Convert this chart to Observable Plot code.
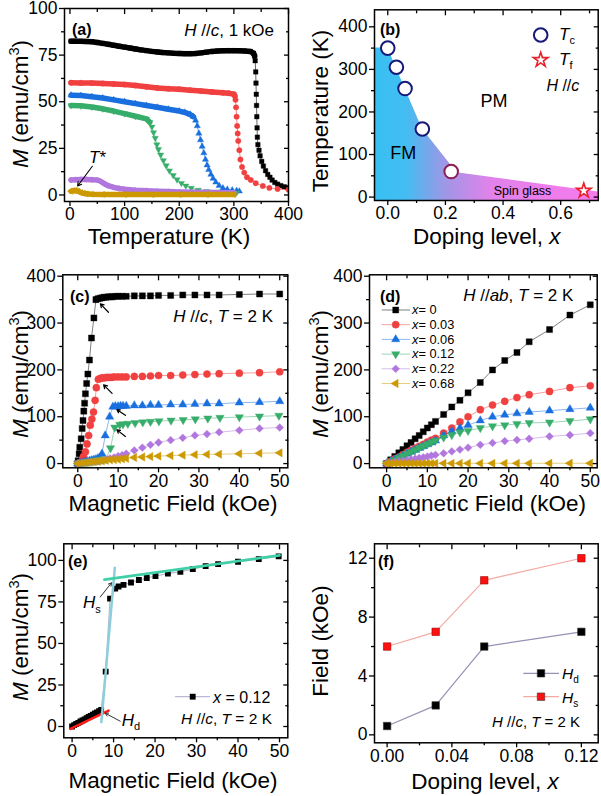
<!DOCTYPE html>
<html><head><meta charset="utf-8">
<script src="https://cdn.jsdelivr.net/npm/d3@7"></script>
<script src="https://cdn.jsdelivr.net/npm/@observablehq/plot@0.6"></script>
<style>
body{margin:0;background:#fff;}
#fig{position:relative;width:601px;height:796px;overflow:hidden;background:#fff;}
#fig svg{position:absolute;overflow:visible;}
</style></head><body><div id="fig"></div>
<script>
// ---------- DATA ----------
// (a) M vs T, H//c 1 kOe  [T (K), M (emu/cm3)]
const mtX000 = [[2,82.5],[10,82.5],[20,82.4],[30,82.3],[40,82.2],[50,81.8],[60,81.3],[70,80.8],[80,80.3],[90,79.8],[100,79.3],[110,78.8],[120,78.3],[130,77.8],[140,77.4],[150,77],[160,76.7],[170,76.4],[180,76.2],[190,76],[200,75.9],[210,75.8],[220,75.8],[230,75.9],[240,76.2],[250,76.6],[260,77],[270,77.2],[280,77.3],[290,77.4],[300,77.4],[310,77.3],[320,77.2],[330,77],[336,76],[338,74.5],[339,72],[340,66],[340.5,60],[341,54],[341.5,48],[342,42],[342.5,36],[343,31],[344,27],[346,24],[348,21],[351,18],[354,15.5],[358,13],[362,11],[366,9.5],[370,8],[375,6.7],[380,5.8],[386,5],[392,4.4],[398,4]];
const mtX003 = [[2,60.2],[20,60.1],[40,60],[60,59.8],[80,59.5],[100,59.2],[120,58.7],[140,58],[160,57.4],[180,57],[200,56.7],[220,56.2],[240,55.7],[260,55.2],[280,54.8],[290,54.6],[300,54],[302,53],[303,51],[304,47],[305,42],[306,37],[307,33],[308,29],[310,24],[312,19],[315,15],[319,12],[324,9.5],[331,8],[340,6.3],[353,4.8],[365,3.8],[380,3.2],[400,2.8]];
const mtX006 = [[2,53.5],[20,53.3],[40,52.7],[60,52],[80,51],[100,50],[120,49],[140,48],[160,47],[180,46],[200,45],[210,44.3],[220,43.2],[226,42],[230,40],[233,37],[236,33],[239,29.5],[242,26],[245,22.5],[248,19],[251,16],[254,13.5],[258,11],[262,8.8],[267,6.8],[273,5],[280,3.7],[288,3],[297,2.6],[305,2.3],[310,2]];
const mtX012 = [[2,48],[20,47.8],[40,47.2],[60,46.2],[80,45],[100,43.6],[120,42.2],[140,40.8],[146,39],[150,36.5],[153,33.5],[156,30.5],[159,27],[162,24.5],[166,21.5],[171,18.5],[176,15.8],[182,13],[189,10.5],[196,8.2],[204,6.3],[212,4.9],[222,3.7],[235,2.7],[250,2],[270,1.6],[290,1.3],[305,1.2]];
const mtX022 = [[2,8],[10,8.2],[20,8.3],[30,8.3],[40,8.2],[50,8],[55,7.5],[60,6.6],[65,5.7],[70,5],[80,4.1],[90,3.5],[100,3.1],[120,2.6],[140,2.3],[160,2],[180,1.8],[200,1.6],[230,1.4],[260,1.3],[300,1.2]];
const mtX068 = [[2,2],[5,2.3],[10,2.4],[15,2],[20,1.3],[25,0.9],[30,0.6],[40,0.4],[60,0.3],[100,0.2],[150,0.2],[200,0.2],[250,0.2],[300,0.2]];
const bandEndA = [338, 300, 226, 146, 400, 400];
const tStar = [[41,15.4],[14,4.8]];

// (b) phase diagram
const dopTc = [0, 0.03, 0.06, 0.12, 0.22];
const tcVals = [350, 305, 255, 160, 60];
const dopTf = [0.68];
const tfVals = [15];
const fmEdgeX = [-0.046, 0, 0.12, 0.24, 0.73];
const fmEdgeT = [350, 350, 160, 57, 12];

// (c) M vs H, H//c, 2 K  [H (kOe), M]
const mhC000 = [[0,0],[0.1,6],[0.35,21],[0.5,35],[0.85,53],[1.1,75],[1.3,92],[1.5,112],[1.7,129],[1.9,149],[2.2,171],[2.5,191],[2.9,221],[3.4,268],[4,311],[4.5,350],[5,352],[5.5,353],[6,354],[6.5,355],[7,355],[7.6,356],[8.2,356],[8.7,356],[9.4,357],[10.2,357],[11,357],[12,357],[14,358],[16,358],[18,358],[20,359],[23,359],[26,360],[29,360],[32,360],[35,360],[40,361],[45,362],[50,362]];
const mhC003 = [[0,0],[0.5,2],[1,5],[1.4,15],[1.9,25],[2.3,42],[2.7,60],[3.1,82],[3.5,95],[3.9,110],[4.3,135],[4.6,162],[5.1,180],[5.6,182],[6.1,183],[6.6,183],[7.2,184],[7.8,184],[8.4,184],[9,185],[10,185],[11,185],[12,185],[14,186],[16,186],[18,187],[20,188],[23,188],[26,189],[29,190],[32,191],[35,192],[40,193],[45,194],[50,196]];
const mhC006 = [[0,0],[0.5,1],[1,2],[1.5,3],[2,4],[2.5,5],[3,6],[3.5,7],[4,8],[4.5,9],[5,11],[5.5,13],[6,21],[6.8,60],[7.9,100],[8.7,121],[9.3,122],[10,122],[10.6,123],[11.2,123],[12,123],[14,124],[16,124],[18,125],[20,125],[23,126],[26,126],[29,127],[32,128],[35,128],[40,130],[45,131],[50,133]];
const mhC012 = [[0,0],[0.5,0.8],[1,1.5],[1.5,2.2],[2,3],[2.5,3.6],[3,4.3],[3.5,5],[4,5.7],[4.5,6.4],[5,7.1],[5.5,7.8],[6,8.5],[6.5,9.2],[7,10],[8.1,33],[9.15,77],[10.4,83],[11.2,84.3],[12.4,85.3],[14.2,86.7],[16.1,88.2],[18,89.4],[20.1,90.6],[23.1,92],[26.1,93.2],[29.1,94.8],[32.2,96.6],[35.2,97.8],[40,99.2],[45,100.8],[49.8,102.4]];
const mhC022 = [[0,0],[1,1],[2,2],[3,3],[4,4],[5,5],[6,7],[7,9],[8,11],[9,13],[10,16],[11,18],[12,21],[14,28],[16,34],[18,40],[20,45],[23,50],[26,55],[29,60],[32,63],[35,67],[40,71],[45,75],[50,77]];
const mhC068 = [[0,0],[1,1],[2,2],[3,3],[4,4],[5,5],[6,6],[7,7],[8,8],[9,8.5],[10,9],[11,10],[12,11],[14,13],[16,14],[18,15],[20,16],[23,17],[26,18],[29,19],[32,19.5],[35,20],[40,21],[45,22],[50,23]];
const arrowsC = [[7.6,323,5.6,341],[8.5,150,6.4,168],[11.8,103,9.7,115],[11.8,58,9.7,72]];

// (d) M vs H, H//ab, 2 K
const mhD000 = [[0,0],[1,8],[2,15],[3,23],[4,30],[5,38],[6,45],[7,53],[8,60],[9,68],[10,76],[11,83],[12,90],[14,105],[16,121],[18,135],[20,151],[23,173],[26,200],[29,220],[32,237],[35,260],[40,286],[45,317],[50,339]];
const mhD003 = [[0,0],[1,5],[2,10],[3,14],[4,19],[5,24],[6,28],[7,33],[8,37],[9,41],[10,46],[11,50],[12,54],[14,65],[16,76],[18,89],[20,100],[23,115],[26,125],[29,133],[32,141],[35,147],[40,154],[45,162],[50,166]];
const mhD006 = [[0,0],[1,4],[2,8],[3,12],[4,16],[5,21],[6,25],[7,29],[8,33],[9,37],[10,41],[11,45],[12,49],[14,60],[16,69],[18,76],[20,82],[23,92],[26,100],[29,104],[32,107],[35,110],[40,113],[45,116],[50,119]];
const mhD012 = [[0,0],[1,4],[2,8],[3,12.5],[4,16.5],[5,21],[6,25],[7,29],[8,33.5],[9,37.5],[10,41.5],[11,45.5],[12,49],[14,56],[16,61],[18,67],[20,70],[23,76],[26,80],[29,82],[32,84.7],[35,86.8],[40,88],[45,91],[50,94.7]];
const mhD022 = [[0,0],[1,1.5],[2,3],[3,4.5],[4,6],[5,7.5],[6,9],[7,10.5],[8,12],[9,13.5],[10,15],[11,17],[12,18.5],[14,22],[16,26],[18,30],[20,34],[23,40],[26,44],[29,48],[32,50.5],[35,53],[40,58],[45,61],[50,65]];
const mhD068 = [[0,0],[1,0.2],[2,0.3],[3,0.3],[4,0.4],[5,0.4],[6,0.4],[7,0.4],[8,0.4],[9,0.4],[10,0.5],[11,0.5],[12,0.5],[14,0.5],[16,0.5],[18,0.5],[20,0.6],[23,0.6],[26,0.6],[29,0.6],[32,0.6],[35,0.6],[40,0.7],[45,0.7],[50,0.7]];
const dopings = [0, 0.03, 0.06, 0.12, 0.22, 0.68];

// (e) linear fits for x = 0.12
const fitHd = [[-0.4,-1.4],[8.8,9.6]];
const fitRise = [[7.05,2.6],[10.3,95.6]];
const fitSat = [[7.8,88.4],[50,103]];
const arrowHs = [6.8,78,9.5,86.5];
const arrowHd = [11.6,3.2,8.0,8.0];

// (f) critical fields
const dopF = [0, 0.03, 0.06, 0.12];
const fieldHd = [0.6, 2, 6, 7];
const fieldHs = [6, 7, 10.5, 12];

// ---------- STYLE ----------
const FONT = "Liberation Sans, Arial, Helvetica, sans-serif";
const COL = ["#000000", "#F14040", "#1A6FDF", "#37AD6B", "#B177DE", "#CC9900"];
const SYM = ["square", "circle", "triangle", "triangle", "square", "triangle"];
const ROT = [0, 0, 0, 180, 45, -90];
const RAD = [3.4, 3.6, 3.1, 3.1, 3.1, 3.1];
const LABEL = 22.5, TICK = 17.5;
const fig = document.getElementById("fig");
const tab = pairs => pairs.map(([x, y]) => ({x, y}));

function rich(g, x, y, str, o = {}) {
  const fs = o.size || 18;
  const t = g.append("text").attr("x", x).attr("y", y)
    .attr("font-family", FONT).attr("font-size", fs)
    .attr("text-anchor", o.anchor || "start").attr("fill", "#000")
    .style("white-space", "pre");
  if (o.bold) t.attr("font-weight", "bold");
  if (o.rotate) t.attr("transform", `rotate(${o.rotate},${x},${y})`);
  const re = /<(i|sup|sub)>(.*?)<\/\1>|([^<]+)/g;
  let m, shift = 0;
  while ((m = re.exec(str))) {
    const tag = m[1], txt = m[1] ? m[2] : m[3];
    const s = t.append("tspan").text(txt);
    let target = 0;
    if (tag === "sup") { s.attr("font-size", fs * 0.65); target = -fs * 0.4; }
    else if (tag === "sub") { s.attr("font-size", fs * 0.65); target = fs * 0.25; }
    else if (tag === "i") s.attr("font-style", "italic");
    if (target !== shift) { s.attr("dy", target - shift); shift = target; }
  }
  return t;
}
const d3sym = {square: d3.symbolSquare, circle: d3.symbolCircle, triangle: d3.symbolTriangle, star: d3.symbolStar};
function sym(g, type, x, y, r, fill, stroke, sw, rot) {
  g.append("path").attr("d", d3.symbol(d3sym[type], Math.PI * r * r)())
    .attr("transform", `translate(${x},${y}) rotate(${rot || 0})`)
    .attr("fill", fill).attr("stroke", stroke || "none").attr("stroke-width", sw || 0);
}

function axes(o) {
  const c = {strokeWidth: 1.3, label: null};
  return [
    Plot.axisX({...c, anchor: "bottom", ticks: o.xMaj, tickSize: 5, tickPadding: 1.5, tickFormat: o.xFmt, fontSize: TICK}),
    Plot.axisX({...c, anchor: "bottom", ticks: o.xMin, tickSize: 3, fill: "none"}),
    Plot.axisX({...c, anchor: "top", ticks: o.xMaj, tickSize: -5, fill: "none"}),
    Plot.axisX({...c, anchor: "top", ticks: o.xMin, tickSize: -3, fill: "none"}),
    Plot.axisY({...c, anchor: "left", ticks: o.yMaj, tickSize: 5, tickPadding: 2, tickFormat: o.yFmt, fontSize: TICK}),
    Plot.axisY({...c, anchor: "left", ticks: o.yMin, tickSize: 3, fill: "none"}),
    Plot.axisY({...c, anchor: "right", ticks: o.yMaj, tickSize: -5, fill: "none"}),
    Plot.axisY({...c, anchor: "right", ticks: o.yMin, tickSize: -3, fill: "none"}),
    Plot.frame({stroke: "#000", strokeWidth: 1.5})
  ];
}
function panel(o) {
  const svg = Plot.plot({
    width: o.w, height: o.h,
    marginLeft: o.mL, marginRight: o.mR, marginTop: o.mT, marginBottom: o.mB,
    x: {domain: o.xd}, y: {domain: o.yd},
    style: {fontFamily: FONT, fontSize: "18px", color: "#000", background: "transparent", overflow: "visible"},
    marks: [...o.marks, ...axes(o)]
  });
  svg.style.position = "absolute";
  svg.style.left = o.left + "px"; svg.style.top = o.top + "px";
  fig.appendChild(svg);
  return d3.select(svg);
}
function seriesMarks(data, i, scale, lineOpacity) {
  return [
    Plot.line(data, {x: "x", y: "y", stroke: COL[i], strokeOpacity: lineOpacity, strokeWidth: 1, clip: true}),
    Plot.dot(data, {x: "x", y: "y", symbol: SYM[i], rotate: ROT[i], r: RAD[i] * scale, fill: COL[i], stroke: COL[i], strokeWidth: 0.4, clip: true})
  ];
}
const tick100 = [0, 100, 200, 300, 400], tick50m = [50, 150, 250, 350];
const tickField = [0, 10, 20, 30, 40, 50], tickFieldM = [5, 15, 25, 35, 45];

// ---------- (a) ----------
const seriesA = [mtX000, mtX003, mtX006, mtX012, mtX022, mtX068].map(tab);
const A = panel({left: 0, top: 0, w: 300, h: 265, mL: 64, mR: 12, mT: 8, mB: 64,
  xd: [-10, 400], yd: [-3.5, 100],
  xMaj: tick100, xMin: tick50m, yMaj: [0, 25, 50, 75, 100], yMin: [12.5, 37.5, 62.5, 87.5],
  marks: [
    ...seriesA.flatMap((d, i) => [
      Plot.line(d.filter(p => p.x <= bandEndA[i]), {x: "x", y: "y", stroke: COL[i], strokeWidth: 5.5, clip: true}),
      ...seriesMarks(d, i, 0.75, 0.6)
    ]),
    Plot.arrow([tStar], {x1: d => d[0][0], y1: d => d[0][1], x2: d => d[1][0], y2: d => d[1][1], stroke: "#000", strokeWidth: 1.1, headLength: 6})
  ]});
rich(A, 28, 104, "<i>M</i> (emu/cm<sup>3</sup>)", {size: LABEL, anchor: "middle", rotate: -90});
rich(A, 169, 243.5, "Temperature (K)", {size: LABEL, anchor: "middle"});
rich(A, 72, 35, "(a)", {size: 16, bold: true});
rich(A, 274, 36, "<i>H</i> //<i>c</i>, 1 kOe", {size: 17, anchor: "end"});
rich(A, 89, 163, "<i>T</i>*", {size: 17});

// ---------- (b) ----------
const ydB = [-8, 440];
const fmRegion = fmEdgeX.map((x, i) => ({x, T: fmEdgeT[i], lo: ydB[0]}));
const tcTab = dopTc.map((x, i) => ({x, T: tcVals[i]}));
const tfTab = dopTf.map((x, i) => ({x, T: tfVals[i]}));
const B = panel({left: 300, top: 0, w: 301, h: 265, mL: 74, mR: 3.3, mT: 9.3, mB: 65,
  xd: [-0.046, 0.73], yd: ydB,
  xMaj: [0, 0.2, 0.4, 0.6], xMin: [0.1, 0.3, 0.5, 0.7], xFmt: d3.format(".1f"),
  yMaj: tick100, yMin: tick50m,
  marks: [
    Plot.areaY(fmRegion, {x: "x", y1: "lo", y2: "T", fill: "url(#gradB)", clip: true}),
    Plot.dot(tcTab.filter(d => d.x < 0.2), {x: "x", y: "T", r: 6.8, fill: "#fff", stroke: "#16197a", strokeWidth: 2}),
    Plot.dot(tcTab.filter(d => d.x > 0.2), {x: "x", y: "T", r: 6.8, fill: "#fff", stroke: "#8c1d50", strokeWidth: 2}),
    Plot.dot(tfTab, {x: "x", y: "T", symbol: "star", r: 4.6, fill: "#fff", stroke: "#e8202a", strokeWidth: 1.6})
  ]});
{
  const lg = B.insert("defs", ":first-child").append("linearGradient").attr("id", "gradB")
    .attr("x1", 0).attr("x2", 1).attr("y1", 0).attr("y2", 0);
  [[0, "#38c0f2"], [0.14, "#42bdf2"], [0.32, "#a096e6"], [0.52, "#e182ea"], [1, "#f77aec"]]
    .forEach(([o, c]) => lg.append("stop").attr("offset", o).attr("stop-color", c));
}
rich(B, 28, 111, "Temperature (K)", {size: LABEL, anchor: "middle", rotate: -90});
rich(B, 186.7, 244, "Doping level, <i>x</i>", {size: LABEL, anchor: "middle"});
rich(B, 80, 35, "(b)", {size: 16, bold: true});
rich(B, 194, 107, "PM", {size: 18, anchor: "middle"});
rich(B, 103.3, 159, "FM", {size: 18, anchor: "middle"});
rich(B, 222.5, 195, "Spin glass", {size: 12.5, anchor: "middle"});
sym(B, "circle", 240.7, 35, 6.8, "#fff", "#16197a", 2);
sym(B, "star", 240.7, 60, 4.6, "#fff", "#e8202a", 1.6);
rich(B, 259, 40, "<i>T</i><sub>c</sub>", {size: 17});
rich(B, 259, 64.5, "<i>T</i><sub>f</sub>", {size: 17});
rich(B, 279.3, 91, "<i>H</i> //<i>c</i>", {size: 16, anchor: "end"});

// ---------- (c) ----------
const seriesC = [mhC000, mhC003, mhC006, mhC012, mhC022, mhC068].map(tab);
const C = panel({left: 0, top: 265, w: 300, h: 270, mL: 62.3, mR: 12.7, mT: 9.3, mB: 67.7,
  xd: [-3.7, 52], yd: [-9, 403],
  xMaj: tickField, xMin: tickFieldM, yMaj: tick100, yMin: tick50m,
  marks: [
    ...seriesC.flatMap((d, i) => seriesMarks(d, i, 1, 0.5)),
    Plot.arrow(arrowsC, {x1: d => d[0], y1: d => d[1], x2: d => d[2], y2: d => d[3], stroke: "#000", strokeWidth: 1.2, headLength: 5})
  ]});
rich(C, 28, 109, "<i>M</i> (emu/cm<sup>3</sup>)", {size: LABEL, anchor: "middle", rotate: -90});
rich(C, 173, 246, "Magnetic Field (kOe)", {size: LABEL, anchor: "middle"});
rich(C, 70, 36.7, "(c)", {size: 16, bold: true});
rich(C, 273, 57, "<i>H</i> //<i>c</i>, <i>T</i> = 2 K", {size: 17, anchor: "end"});

// ---------- (d) ----------
const seriesD = [mhD000, mhD003, mhD006, mhD012, mhD022, mhD068].map(tab);
const D = panel({left: 300, top: 265, w: 301, h: 270, mL: 69, mR: 4.3, mT: 9.3, mB: 67.7,
  xd: [-4.2, 51.7], yd: [-9, 403],
  xMaj: tickField, xMin: tickFieldM, yMaj: tick100, yMin: tick50m,
  marks: seriesD.flatMap((d, i) => seriesMarks(d, i, 1, 0.5))});
rich(D, 28, 109, "<i>M</i> (emu/cm<sup>3</sup>)", {size: LABEL, anchor: "middle", rotate: -90});
rich(D, 181.7, 246, "Magnetic Field (kOe)", {size: LABEL, anchor: "middle"});
rich(D, 80, 36.7, "(d)", {size: 16, bold: true});
rich(D, 273.3, 36, "<i>H</i> //<i>ab</i>, <i>T</i> = 2 K", {size: 17, anchor: "end"});
dopings.forEach((v, i) => {
  const y = 45 + i * 14.7;
  D.append("line").attr("x1", 81.7).attr("x2", 110).attr("y1", y).attr("y2", y)
    .attr("stroke", COL[i]).attr("stroke-opacity", 0.5).attr("stroke-width", 1);
  sym(D, SYM[i], 95.7, y, RAD[i], COL[i], COL[i], 0.4, ROT[i]);
  rich(D, 112, y + 4.3, `<i>x</i>= ${v}`, {size: 12.8});
});

// ---------- (e) ----------
const dataE = tab(mhC012);
const E = panel({left: 0, top: 530, w: 300, h: 266, mL: 63.3, mR: 12.7, mT: 13.3, mB: 58.7,
  xd: [-2, 52], yd: [-6.8, 110],
  xMaj: tickField, xMin: tickFieldM, yMaj: [0, 25, 50, 75, 100], yMin: [12.5, 37.5, 62.5, 87.5],
  marks: [
    Plot.line(dataE, {x: "x", y: "y", stroke: "#b9b9d3", strokeWidth: 1.2, clip: true}),
    Plot.dot(dataE, {x: "x", y: "y", symbol: "square", r: 3.3, fill: "#000", clip: true}),
    Plot.line(tab(fitHd), {x: "x", y: "y", stroke: "#ff1a1a", strokeWidth: 2.5}),
    Plot.line(tab(fitRise), {x: "x", y: "y", stroke: "#8ccfda", strokeWidth: 2.5}),
    Plot.line(tab(fitSat), {x: "x", y: "y", stroke: "#40cfa6", strokeWidth: 2.8}),
    Plot.arrow([arrowHs, arrowHd], {x1: d => d[0], y1: d => d[1], x2: d => d[2], y2: d => d[3], stroke: "#333", strokeWidth: 1, headLength: 5})
  ]});
rich(E, 28, 107, "<i>M</i> (emu/cm<sup>3</sup>)", {size: LABEL, anchor: "middle", rotate: -90});
rich(E, 173, 257.5, "Magnetic Field (kOe)", {size: LABEL, anchor: "middle"});
rich(E, 68, 37.3, "(e)", {size: 16, bold: true});
rich(E, 83, 78.3, "<i>H</i><sub>s</sub>", {size: 17});
rich(E, 121.7, 196, "<i>H</i><sub>d</sub>", {size: 17});
E.append("line").attr("x1", 175).attr("x2", 210).attr("y1", 166.7).attr("y2", 166.7)
  .attr("stroke", "#b9b9d3").attr("stroke-width", 1.2);
sym(E, "square", 192.7, 166.7, 3.3, "#000");
rich(E, 213, 172.5, "<i>x</i> = 0.12", {size: 16});
rich(E, 272, 193.5, "<i>H</i> //<i>c</i>, <i>T</i> = 2 K", {size: 15.5, anchor: "end"});

// ---------- (f) ----------
const hdTab = dopF.map((x, i) => ({x, y: fieldHd[i]}));
const hsTab = dopF.map((x, i) => ({x, y: fieldHs[i]}));
const F = panel({left: 300, top: 530, w: 301, h: 266, mL: 74, mR: 3.3, mT: 13.3, mB: 53.7,
  xd: [-0.0078, 0.1304], yd: [-0.54, 12.98],
  xMaj: [0, 0.04, 0.08, 0.12], xMin: [0.02, 0.06, 0.1], xFmt: d3.format(".2f"),
  yMaj: [0, 4, 8, 12], yMin: [2, 6, 10],
  marks: [
    Plot.line(hdTab, {x: "x", y: "y", stroke: "#9a8fb5", strokeWidth: 1.2}),
    Plot.line(hsTab, {x: "x", y: "y", stroke: "#f4a9a3", strokeWidth: 1.2}),
    Plot.dot(hdTab, {x: "x", y: "y", symbol: "square", r: 4.2, fill: "#000", stroke: "#333", strokeWidth: 0.6}),
    Plot.dot(hsTab, {x: "x", y: "y", symbol: "square", r: 4.2, fill: "#ff1010", stroke: "#a00000", strokeWidth: 0.6})
  ]});
rich(F, 28, 111, "Field (kOe)", {size: LABEL, anchor: "middle", rotate: -90});
rich(F, 185, 258.5, "Doping level, <i>x</i>", {size: LABEL, anchor: "middle"});
rich(F, 78, 37, "(f)", {size: 16, bold: true});
[["d", "#9a8fb5", "#000", 143.3], ["s", "#f4a9a3", "#ff1010", 166.7]].forEach(([s, lc, fc, y]) => {
  F.append("line").attr("x1", 223.3).attr("x2", 259).attr("y1", y).attr("y2", y).attr("stroke", lc).attr("stroke-width", 1.2);
  sym(F, "square", 241, y, 4.2, fc, "#333", 0.6);
  rich(F, 262, y + 6, `<i>H</i><sub>${s}</sub>`, {size: 15.5});
});
rich(F, 280, 197, "<i>H</i> //<i>c</i>, <i>T</i> = 2 K", {size: 15, anchor: "end"});
</script></body></html>
